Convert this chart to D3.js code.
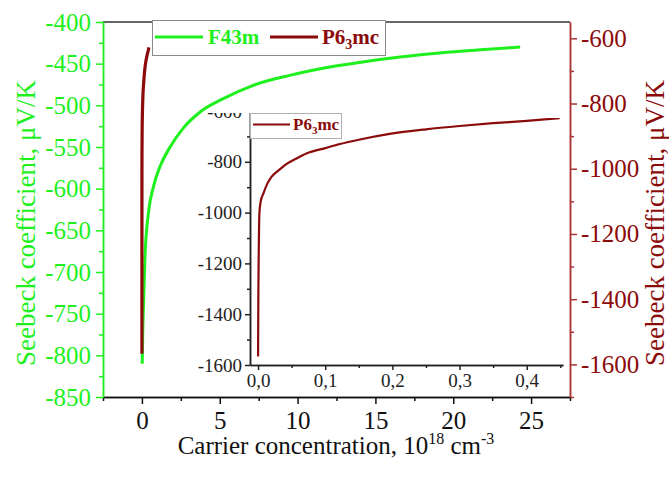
<!DOCTYPE html>
<html>
<head>
<meta charset="utf-8">
<script src="https://cdn.jsdelivr.net/npm/d3@7"></script>
<style>
  body { margin: 0; background: #fff; }
</style>
</head>
<body>
<script>
// F-43m phase (left axis), carrier concentration in 1e18 cm^-3
var f43mN = [0.02, 0.05, 0.1, 0.2, 0.42, 0.75, 1.17, 1.81, 2.67, 3.74, 5.23, 7.15, 9.5, 12.07, 14.5, 16.6, 19.8, 22.0, 24.3];
var f43mS = [-810, -775, -741, -680, -629, -597, -573, -550, -527, -508, -492, -476, -464, -454, -447, -442, -436, -433, -430];

// P6_3mc phase (right axis and inset)
var p63N = [0, 0.0002, 0.0005, 0.001, 0.002, 0.004, 0.008, 0.014, 0.02, 0.03, 0.04, 0.055, 0.072, 0.1, 0.122, 0.15, 0.196, 0.25, 0.3, 0.35, 0.4, 0.449];
var p63S = [-1567, -1450, -1300, -1160, -1003, -955, -924, -885, -859, -835, -813, -790, -767, -746, -730, -713, -690, -672, -659, -648, -639, -628];

var xTicks = [0, 5, 10, 15, 20, 25];
var leftTicks = [-850, -800, -750, -700, -650, -600, -550, -500, -450, -400];
var rightTicks = [-1600, -1400, -1200, -1000, -800, -600];
var insetXTicks = [0, 0.1, 0.2, 0.3, 0.4];
var insetYTicks = [-1600, -1400, -1200, -1000, -800, -600];

var green = "#1ef01e";
var dred = "#8b0a0a";
var redAxis = "#a83434";
var serif = "'Liberation Serif', 'Times New Roman', 'DejaVu Serif', serif";

var svg = d3.select("body").append("svg")
  .attr("width", 669)
  .attr("height", 478)
  .style("font-family", serif);

var f43m = f43mN.map((n, i) => ({n: n, s: f43mS[i]}));
var p63 = p63N.map((n, i) => ({n: n, s: p63S[i]}));

// main scales
var x = d3.scaleLinear().domain([-2.5, 27.5]).range([103, 570]);
var yL = d3.scaleLinear().domain([-850, -400]).range([397, 22]);
var yR = d3.scaleLinear().domain([-1700, -550]).range([397, 22]);

function styleAxis(g, color, size) {
  g.attr("font-family", null);
  g.select(".domain").attr("stroke", color).attr("stroke-width", 1.5);
  g.selectAll(".tick line").attr("stroke", color).attr("stroke-width", 1.5);
  g.selectAll(".tick text").attr("fill", color)
    .style("font-size", size + "px").style("font-family", serif);
}

// top frame line
svg.append("line")
  .attr("x1", 103).attr("x2", 570).attr("y1", 22).attr("y2", 22)
  .attr("stroke", "#333").attr("stroke-width", 1.5);

// bottom axis (minor then major)
svg.append("g").attr("transform", "translate(0,397)")
  .call(d3.axisBottom(x).tickValues(d3.range(-2.5, 28, 5)).tickFormat("").tickSize(4).tickSizeOuter(0))
  .call(g => styleAxis(g, "#111", 25));
svg.append("g").attr("transform", "translate(0,397)")
  .call(d3.axisBottom(x).tickValues(xTicks).tickFormat(d => String(d)).tickSize(7).tickSizeOuter(0).tickPadding(7))
  .call(g => styleAxis(g, "#111", 25));

// left axis
svg.append("g").attr("transform", "translate(103,0)")
  .call(d3.axisLeft(yL).tickValues(d3.range(-825, -400, 50)).tickFormat("").tickSize(4).tickSizeOuter(0))
  .call(g => styleAxis(g, green, 25));
svg.append("g").attr("transform", "translate(103,0)")
  .call(d3.axisLeft(yL).tickValues(leftTicks).tickFormat(d => String(d)).tickSize(7).tickSizeOuter(0).tickPadding(5))
  .call(g => styleAxis(g, green, 25));

// right axis
svg.append("g").attr("transform", "translate(570,0)")
  .call(d3.axisRight(yR).tickValues([-1700, -1500, -1300, -1100, -900, -700]).tickFormat("").tickSize(4).tickSizeOuter(0))
  .call(g => styleAxis(g, redAxis, 25));
svg.append("g").attr("transform", "translate(570,0)")
  .call(d3.axisRight(yR).tickValues(rightTicks).tickFormat(d => String(d)).tickSize(7).tickSizeOuter(0).tickPadding(4))
  .call(g => styleAxis(g, redAxis, 25))
  .call(g => g.selectAll(".tick text").attr("fill", dred));

// curves
var lineL = d3.line().x(d => x(d.n)).y(d => yL(d.s)).curve(d3.curveMonotoneX);
var lineR = d3.line().x(d => x(d.n)).y(d => yR(d.s)).curve(d3.curveMonotoneX);

svg.append("path").datum(f43m)
  .attr("d", lineL).attr("fill", "none").attr("stroke", green).attr("stroke-width", 3);
svg.append("path").datum(p63)
  .attr("d", lineR).attr("fill", "none").attr("stroke", dred).attr("stroke-width", 3.2);

// axis titles
svg.append("text")
  .attr("transform", "translate(26,223) rotate(-90)")
  .attr("text-anchor", "middle").attr("dy", "0.35em")
  .style("font-size", "27px").attr("fill", green)
  .text("Seebeck coefficient, \u03bcV/K");

svg.append("text")
  .attr("transform", "translate(655,223) rotate(-90)")
  .attr("text-anchor", "middle").attr("dy", "0.35em")
  .style("font-size", "27px").attr("fill", dred)
  .text("Seebeck coefficient, \u03bcV/K");

var xt = svg.append("text")
  .attr("x", 336).attr("y", 454)
  .attr("text-anchor", "middle")
  .style("font-size", "25px").attr("fill", "#111");
xt.append("tspan").text("Carrier concentration, 10");
xt.append("tspan").attr("dy", -10).style("font-size", "16px").text("18");
xt.append("tspan").attr("dy", 10).text(" cm");
xt.append("tspan").attr("dy", -10).style("font-size", "16px").text("-3");

// main legend
var leg = svg.append("g");
leg.append("rect")
  .attr("x", 152.5).attr("y", 20.5).attr("width", 233).attr("height", 35)
  .attr("fill", "#fff").attr("stroke", "#8a8a8a").attr("stroke-width", 1);
leg.append("line").attr("x1", 155).attr("x2", 203).attr("y1", 37).attr("y2", 37)
  .attr("stroke", green).attr("stroke-width", 3);
leg.append("text").attr("x", 208).attr("y", 44)
  .style("font-size", "21px").attr("font-weight", "bold").attr("fill", green)
  .text("F43m");
leg.append("line").attr("x1", 270).attr("x2", 318).attr("y1", 37).attr("y2", 37)
  .attr("stroke", dred).attr("stroke-width", 3);
var lt = leg.append("text").attr("x", 322).attr("y", 44)
  .style("font-size", "21px").attr("font-weight", "bold").attr("fill", dred);
lt.append("tspan").text("P6");
lt.append("tspan").attr("dy", 5).style("font-size", "14px").text("3");
lt.append("tspan").attr("dy", -5).text("mc");

// inset
var xi = d3.scaleLinear().domain([-0.012, 0.454]).range([250, 563]);
var yi = d3.scaleLinear().domain([-1600, -600]).range([365, 111]);

svg.append("defs").append("clipPath").attr("id", "insetClip")
  .append("rect").attr("x", 150).attr("y", 113).attr("width", 420).attr("height", 300);

var inset = svg.append("g").attr("clip-path", "url(#insetClip)");

inset.append("g").attr("transform", "translate(0,365)")
  .call(d3.axisBottom(xi).tickValues([0.05, 0.15, 0.25, 0.35, 0.45]).tickFormat("").tickSize(3).tickSizeOuter(0))
  .call(g => styleAxis(g, "#222", 19));
inset.append("g").attr("transform", "translate(0,365)")
  .call(d3.axisBottom(xi).tickValues(insetXTicks).tickFormat(d => d3.format(".1f")(d).replace(".", ",")).tickSize(5).tickSizeOuter(0).tickPadding(4))
  .call(g => styleAxis(g, "#222", 19));

inset.append("g").attr("transform", "translate(250,0)")
  .call(d3.axisLeft(yi).tickValues([-1500, -1300, -1100, -900, -700]).tickFormat("").tickSize(3).tickSizeOuter(0))
  .call(g => styleAxis(g, "#222", 19));
inset.append("g").attr("transform", "translate(250,0)")
  .call(d3.axisLeft(yi).tickValues(insetYTicks).tickFormat(d => String(d)).tickSize(5).tickSizeOuter(0).tickPadding(3))
  .call(g => styleAxis(g, "#222", 19));

var lineI = d3.line().x(d => xi(d.n)).y(d => yi(d.s)).curve(d3.curveMonotoneX);
inset.append("path").datum(p63)
  .attr("d", lineI).attr("fill", "none").attr("stroke", dred).attr("stroke-width", 2.2);

// inset legend
var il = svg.append("g");
il.append("rect")
  .attr("x", 250.5).attr("y", 113.5).attr("width", 91).attr("height", 25)
  .attr("fill", "#fff").attr("stroke", "#b0b0b0").attr("stroke-width", 1);
il.append("line").attr("x1", 253).attr("x2", 290).attr("y1", 124.5).attr("y2", 124.5)
  .attr("stroke", dred).attr("stroke-width", 2.2);
var it = il.append("text").attr("x", 293).attr("y", 130)
  .style("font-size", "17px").attr("font-weight", "bold").attr("fill", dred);
it.append("tspan").text("P6");
it.append("tspan").attr("dy", 4).style("font-size", "11px").text("3");
it.append("tspan").attr("dy", -4).text("mc");
</script>
</body>
</html>
